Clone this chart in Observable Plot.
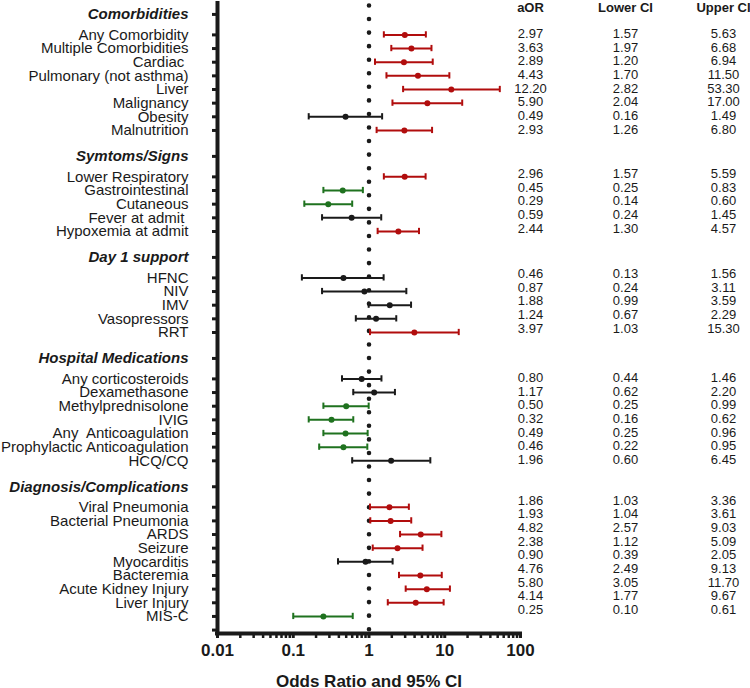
<!DOCTYPE html>
<html>
<head>
<meta charset="utf-8">
<script src="https://cdn.jsdelivr.net/npm/d3@7"></script>
<script src="https://cdn.jsdelivr.net/npm/@observablehq/plot@0.6"></script>
<style>
  html, body { margin: 0; padding: 0; background: #fff; }
  svg text { white-space: pre; }
</style>
</head>
<body>
<div id="chart"></div>
<script>
// ---------- DATA ----------
const sectionTitles = ["Comorbidities", "Symtoms/Signs", "Day 1 support", "Hospital Medications", "Diagnosis/Complications"];

const comorbLabels = ["Any Comorbidity", "Multiple Comorbidities", "Cardiac ", "Pulmonary (not asthma)", "Liver", "Malignancy", "Obesity", "Malnutrition"];
const comorbAOR    = [2.97, 3.63, 2.89, 4.43, 12.20, 5.90, 0.49, 2.93];
const comorbLower  = [1.57, 1.97, 1.20, 1.70, 2.82, 2.04, 0.16, 1.26];
const comorbUpper  = [5.63, 6.68, 6.94, 11.50, 53.30, 17.00, 1.49, 6.80];

const symptomLabels = ["Lower Respiratory", "Gastrointestinal", "Cutaneous", "Fever at admit ", "Hypoxemia at admit"];
const symptomAOR    = [2.96, 0.45, 0.29, 0.59, 2.44];
const symptomLower  = [1.57, 0.25, 0.14, 0.24, 1.30];
const symptomUpper  = [5.59, 0.83, 0.60, 1.45, 4.57];

const supportLabels = ["HFNC", "NIV", "IMV", "Vasopressors", "RRT"];
const supportAOR    = [0.46, 0.87, 1.88, 1.24, 3.97];
const supportLower  = [0.13, 0.24, 0.99, 0.67, 1.03];
const supportUpper  = [1.56, 3.11, 3.59, 2.29, 15.30];

const medLabels = ["Any corticosteroids", "Dexamethasone", "Methylprednisolone", "IVIG", "Any  Anticoagulation", "Prophylactic Anticoagulation", "HCQ/CQ"];
const medAOR    = [0.80, 1.17, 0.50, 0.32, 0.49, 0.46, 1.96];
const medLower  = [0.44, 0.62, 0.25, 0.16, 0.25, 0.22, 0.60];
const medUpper  = [1.46, 2.20, 0.99, 0.62, 0.96, 0.95, 6.45];

const diagLabels = ["Viral Pneumonia", "Bacterial Pneumonia", "ARDS", "Seizure", "Myocarditis", "Bacteremia", "Acute Kidney Injury", "Liver Injury", "MIS-C"];
const diagAOR    = [1.86, 1.93, 4.82, 2.38, 0.90, 4.76, 5.80, 4.14, 0.25];
const diagLower  = [1.03, 1.04, 2.57, 1.12, 0.39, 2.49, 3.05, 1.77, 0.10];
const diagUpper  = [3.36, 3.61, 9.03, 5.09, 2.05, 9.13, 11.70, 9.67, 0.61];

const xTicks = [0.01, 0.1, 1, 10, 100];
const tableHeaders = ["aOR", "Lower CI", "Upper CI"];
const xLabel = "Odds Ratio and 95% CI";

// ---------- LAYOUT / STYLE ----------
const HEADER_TO_ITEM = 1.5, ITEM_STEP = 1, SECTION_GAP = 1.9;
const Y_TOP = -0.8, Y_BOTTOM = 45.35;
const tableShift = [-0.07, -0.22, -0.3, -0.07, -0.48]; // small vertical drift of the table per section (row units)
const RED = "#b10d0d", GREEN = "#1f721f", BLACK = "#1a1a1a";
const FONT = "'Liberation Sans', Arial, Helvetica, sans-serif";

const sectionData = [
  [comorbLabels, comorbAOR, comorbLower, comorbUpper],
  [symptomLabels, symptomAOR, symptomLower, symptomUpper],
  [supportLabels, supportAOR, supportLower, supportUpper],
  [medLabels, medAOR, medLower, medUpper],
  [diagLabels, diagAOR, diagLower, diagUpper]
];

const headers = [], items = [];
let pos = 0;
sectionData.forEach(([labels, aor, lo, hi], si) => {
  if (si > 0) pos += SECTION_GAP;
  headers.push({label: sectionTitles[si], pos});
  labels.forEach((label, i) => {
    pos += i === 0 ? HEADER_TO_ITEM : ITEM_STEP;
    items.push({label, aor: aor[i], lo: lo[i], hi: hi[i], pos, section: si});
  });
});
const tickPositions = [...headers.map(d => d.pos), ...items.map(d => d.pos), pos + ITEM_STEP];

const colorOf = d => d.lo > 1 ? RED : d.hi < 1 ? GREEN : BLACK;
const minorTicks = [0.01, 0.1, 1, 10].flatMap(b => [2,3,4,5,6,7,8,9].map(k => b * k));
const colDx = [10, 105, 203];

const chart = Plot.plot({
  width: 750,
  height: 688,
  marginLeft: 217,
  marginRight: 230,
  marginTop: 3,
  marginBottom: 55,
  style: {fontFamily: FONT, background: "#fff", color: BLACK},
  x: {type: "log", domain: [0.01, 100]},
  y: {domain: [Y_TOP, Y_BOTTOM], reverse: true},
  marks: [
    // dotted reference line at OR = 1
    Plot.ruleX([1], {y1: Y_TOP, y2: Y_BOTTOM, stroke: BLACK, strokeWidth: 4.6,
      strokeDasharray: "0 13.56", strokeDashoffset: 11.1, strokeLinecap: "round"}),
    // y ticks
    Plot.axisY(tickPositions, {anchor: "left", tickSize: 5, strokeWidth: 3, tickFormat: () => "", label: null}),
    // x ticks
    Plot.axisX(minorTicks, {tickSize: 5, strokeWidth: 2.5, tickFormat: () => "", label: null}),
    Plot.axisX(xTicks, {tickSize: 5, strokeWidth: 3, tickPadding: 5, tickFormat: d => String(d),
      fontSize: 17, fontWeight: "bold", label: null}),
    // axis lines
    Plot.ruleX([0.01], {y1: Y_TOP, y2: Y_BOTTOM, strokeWidth: 4, stroke: BLACK, strokeLinecap: "square"}),
    Plot.ruleY([Y_BOTTOM], {x1: 0.01, x2: 100, strokeWidth: 4, stroke: BLACK, strokeLinecap: "square"}),
    // error bars
    Plot.ruleY(items, {y: "pos", x1: "lo", x2: "hi", stroke: colorOf, strokeWidth: 2}),
    Plot.ruleX(items, {x: "lo", y1: d => d.pos - 0.23, y2: d => d.pos + 0.23, stroke: colorOf, strokeWidth: 2}),
    Plot.ruleX(items, {x: "hi", y1: d => d.pos - 0.23, y2: d => d.pos + 0.23, stroke: colorOf, strokeWidth: 2}),
    Plot.dot(items, {x: "aor", y: "pos", r: 3, fill: colorOf, stroke: null}),
    // row labels
    Plot.text(items, {frameAnchor: "left", y: "pos", text: "label", textAnchor: "end", dx: -29,
      fontSize: 15, fill: BLACK}),
    Plot.text(headers, {frameAnchor: "left", y: "pos", text: "label", textAnchor: "end", dx: -29,
      fontSize: 15, fontWeight: "bold", fontStyle: "italic", fill: BLACK}),
    // table headers
    ...tableHeaders.map((h, i) => Plot.text([h], {frameAnchor: "top-right", text: d => d, dx: colDx[i], dy: 4,
      lineAnchor: "middle", textAnchor: "middle", fontSize: 13, fontWeight: "bold", fill: BLACK})),
    // table values
    Plot.text(items, {frameAnchor: "right", y: d => d.pos + tableShift[d.section], text: d => d.aor.toFixed(2),
      dx: colDx[0], textAnchor: "middle", fontSize: 13, fill: BLACK}),
    Plot.text(items, {frameAnchor: "right", y: d => d.pos + tableShift[d.section], text: d => d.lo.toFixed(2),
      dx: colDx[1], textAnchor: "middle", fontSize: 13, fill: BLACK}),
    Plot.text(items, {frameAnchor: "right", y: d => d.pos + tableShift[d.section], text: d => d.hi.toFixed(2),
      dx: colDx[2], textAnchor: "middle", fontSize: 13, fill: BLACK}),
    // x axis title
    Plot.text([xLabel], {frameAnchor: "bottom", text: d => d, dy: 48, lineAnchor: "middle",
      fontSize: 17, fontWeight: "bold", fill: BLACK})
  ]
});
document.getElementById("chart").appendChild(chart);
</script>
</body>
</html>
